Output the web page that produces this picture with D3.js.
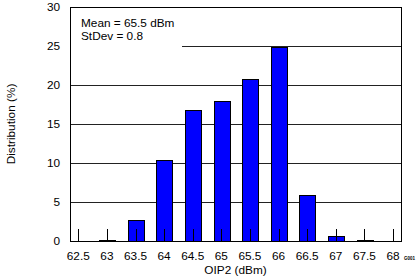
<!DOCTYPE html>
<html>
<head>
<meta charset="utf-8">
<script src="https://cdn.jsdelivr.net/npm/d3@7"></script>
<style>
  body { margin: 0; background: #fff; }
  text { font-family: "Liberation Sans", Arial, sans-serif; }
</style>
</head>
<body>
<svg id="chart" width="419" height="279"></svg>
<script>
// Data
var bins = [62.5, 63, 63.5, 64, 64.5, 65, 65.5, 66, 66.5, 67, 67.5, 68]
var distribution = [0, 0.15, 2.65, 10.35, 16.8, 18.0, 20.8, 24.9, 5.9, 0.6, 0.15, 0]
var yTicks = [0, 5, 10, 15, 20, 25, 30]
var notes = ["Mean = 65.5 dBm", "StDev = 0.8"]

var svg = d3.select("#chart"),
  width = +svg.attr("width"),
  height = +svg.attr("height");

var margin = { top: 7, right: 18, bottom: 38, left: 70 }
var w = width - margin.left - margin.right,
  h = height - margin.top - margin.bottom;

var x = d3.scaleLinear().domain([62.355, 68.14]).range([0, w])
var y = d3.scaleLinear().domain([0, 30]).range([h, 0])
var halfBar = 0.136

var g = svg.append("g").attr("transform", "translate(" + margin.left + "," + margin.top + ")")

// gridlines
g.selectAll(".grid")
  .data(yTicks.slice(1, -1))
  .join("line")
  .attr("x1", 0).attr("x2", w)
  .attr("y1", d => Math.round(y(d)) + 0.5).attr("y2", d => Math.round(y(d)) + 0.5)
  .attr("stroke", "#222").attr("stroke-width", 1)

// bars
g.selectAll(".bar")
  .data(bins.map((b, i) => ({ b: b, v: distribution[i] })).filter(d => d.v > 0))
  .join("rect")
  .attr("x", d => Math.round(x(d.b - halfBar)) + 0.5)
  .attr("width", d => Math.round(x(d.b + halfBar) - x(d.b - halfBar)))
  .attr("y", d => Math.round(y(d.v)) + 0.5)
  .attr("height", d => Math.max(0, Math.round(h - y(d.v))))
  .attr("fill", "#0000ff")
  .attr("stroke", "#000").attr("stroke-width", 1)

// tick marks on the x axis (drawn over the bars)
g.selectAll(".xtick")
  .data(bins)
  .join("line")
  .attr("x1", d => Math.round(x(d)) + 0.5).attr("x2", d => Math.round(x(d)) + 0.5)
  .attr("y1", h).attr("y2", h - 12)
  .attr("stroke", "#000").attr("stroke-width", 1)

// note box
g.append("rect")
  .attr("x", 1).attr("y", 1).attr("width", 111).attr("height", 41)
  .attr("fill", "#fff")
g.selectAll(".note")
  .data(notes)
  .join("text")
  .attr("x", 11).attr("y", (d, i) => 20 + i * 13)
  .attr("font-size", 11.8)
  .text(d => d)

// frame
g.append("rect")
  .attr("x", 0.5).attr("y", 0.5).attr("width", w).attr("height", h)
  .attr("fill", "none").attr("stroke", "#000").attr("stroke-width", 1)

// tick labels
g.selectAll(".xlab")
  .data(bins)
  .join("text")
  .attr("x", d => x(d)).attr("y", h + 19)
  .attr("text-anchor", "middle").attr("font-size", 11.8)
  .text(d => d)

g.selectAll(".ylab")
  .data(yTicks)
  .join("text")
  .attr("x", -10).attr("y", d => y(d) + 4)
  .attr("text-anchor", "end").attr("font-size", 11.8)
  .text(d => d)

// axis titles
g.append("text")
  .attr("x", w / 2).attr("y", h + 33)
  .attr("text-anchor", "middle").attr("font-size", 11.8)
  .text("OIP2 (dBm)")

g.append("text")
  .attr("transform", "translate(" + (-55) + "," + (h / 2) + ") rotate(-90)")
  .attr("text-anchor", "middle").attr("font-size", 11.8)
  .text("Distribution (%)")

svg.append("text")
  .attr("x", 404).attr("y", 260)
  .attr("font-size", 4.5).attr("font-weight", "bold")
  .text("G001")
</script>
</body>
</html>
